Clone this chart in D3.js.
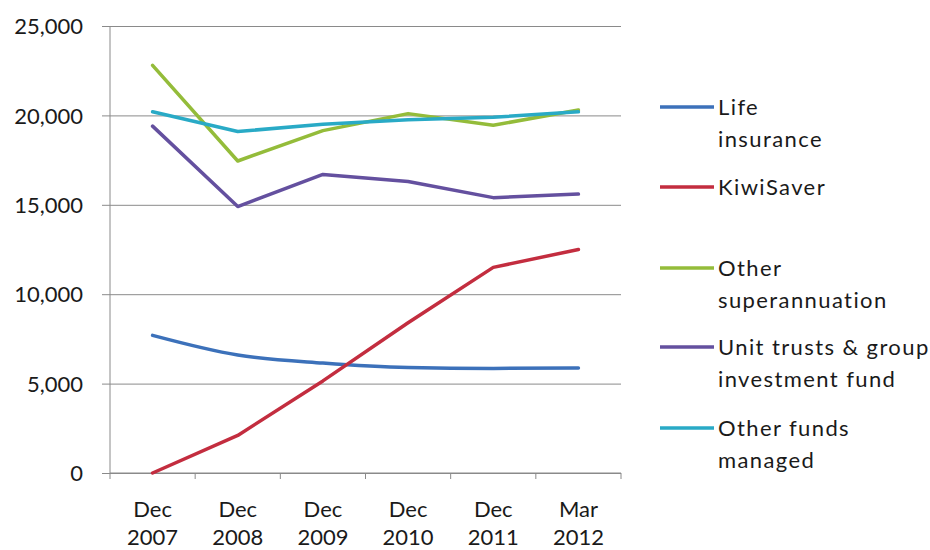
<!DOCTYPE html>
<html>
<head>
<meta charset="utf-8">
<script src="https://cdn.jsdelivr.net/npm/d3@7/dist/d3.min.js"></script>
<style>
  html, body { margin: 0; padding: 0; background: #fff; }
  svg text { font-family: Lato, "Open Sans", sans-serif; fill: #1a1a1a; }
</style>
</head>
<body>
<svg id="chart" width="930" height="550"></svg>
<script>
// Funds under management by category, $ million
const periods = [["Dec", "2007"], ["Dec", "2008"], ["Dec", "2009"], ["Dec", "2010"], ["Dec", "2011"], ["Mar", "2012"]];
const yTicks = [0, 5000, 10000, 15000, 20000, 25000];

const lifeInsurance   = [7700, 6600, 6150, 5900, 5850, 5870];
const kiwiSaver       = [0, 2100, 5150, 8400, 11500, 12500];
const otherSuper      = [22800, 17450, 19150, 20100, 19450, 20300];
const unitTrusts      = [19400, 14900, 16700, 16300, 15400, 15600];
const otherFunds      = [20200, 19100, 19500, 19750, 19900, 20200];

const seriesNames = [["Life", "insurance"], ["KiwiSaver"], ["Other", "superannuation"], ["Unit trusts & group", "investment fund"], ["Other funds", "managed"]];
const seriesColors = ["#3c71ba", "#c32d3f", "#94bc3a", "#64509f", "#29aac6"];
const seriesValues = [lifeInsurance, kiwiSaver, otherSuper, unitTrusts, otherFunds];
const smoothed = [true, false, false, false, false];

const svg = d3.select("#chart");
const plotLeft = 110, plotRight = 621, plotTop = 26, plotBottom = 473;

const x = d3.scaleBand().domain(d3.range(periods.length)).range([plotLeft, plotRight]).paddingInner(0).paddingOuter(0);
const y = d3.scaleLinear().domain([0, 25000]).range([plotBottom, plotTop]);
const cx = i => x(i) + x.bandwidth() / 2;

// horizontal gridlines with y-axis tick marks
const yAxis = d3.axisLeft(y).tickValues(yTicks).tickSize(-(plotRight - plotLeft)).tickFormat(d3.format(","));
const gy = svg.append("g").attr("transform", `translate(${plotLeft},0)`).call(yAxis);
gy.select(".domain").remove();
gy.selectAll(".tick line").attr("stroke", "#8a8a8a").attr("x1", -8);
gy.selectAll(".tick text").attr("x", -27).attr("dy", "0.35em").style("font-size", "22px").attr("fill", "#1a1a1a");

// vertical axis line
svg.append("line").attr("x1", plotLeft).attr("x2", plotLeft).attr("y1", plotTop).attr("y2", plotBottom)
  .attr("stroke", "#8a8a8a");

// x axis with tick marks at category boundaries
svg.append("line").attr("x1", plotLeft).attr("x2", plotRight).attr("y1", plotBottom).attr("y2", plotBottom)
  .attr("stroke", "#8a8a8a");
const bounds = d3.range(periods.length + 1).map(i => i < periods.length ? x(i) : plotRight);
svg.append("g").selectAll("line").data(bounds).join("line")
  .attr("x1", d => d).attr("x2", d => d).attr("y1", plotBottom).attr("y2", plotBottom + 6)
  .attr("stroke", "#8a8a8a");

const xl = svg.append("g").selectAll("text").data(periods).join("text")
  .attr("text-anchor", "middle").style("font-size", "22px");
xl.each(function (d, i) {
  const t = d3.select(this);
  t.append("tspan").attr("x", cx(i)).attr("y", 517).text(d[0]);
  t.append("tspan").attr("x", cx(i)).attr("y", 545).text(d[1]);
});

// series lines
seriesValues.forEach((vals, s) => {
  const line = d3.line()
    .x((d, i) => cx(i))
    .y(d => y(d))
    .curve(smoothed[s] ? d3.curveMonotoneX : d3.curveLinear);
  svg.append("path").datum(vals)
    .attr("d", line)
    .attr("fill", "none")
    .attr("stroke", seriesColors[s])
    .attr("stroke-width", 3.5)
    .attr("stroke-linejoin", "round")
    .attr("stroke-linecap", "round");
});

// legend
const legendY = [107, 187, 268, 347, 428];
const lg = svg.append("g");
seriesNames.forEach((name, s) => {
  lg.append("line").attr("x1", 660).attr("x2", 714).attr("y1", legendY[s]).attr("y2", legendY[s])
    .attr("stroke", seriesColors[s]).attr("stroke-width", 3.5);
  const t = lg.append("text").style("font-size", "22px").style("letter-spacing", "1.4px");
  name.forEach((ln, k) => {
    t.append("tspan").attr("x", 718).attr("y", legendY[s] + 32 * k).attr("dy", "0.35em").text(ln);
  });
});
</script>
</body>
</html>
